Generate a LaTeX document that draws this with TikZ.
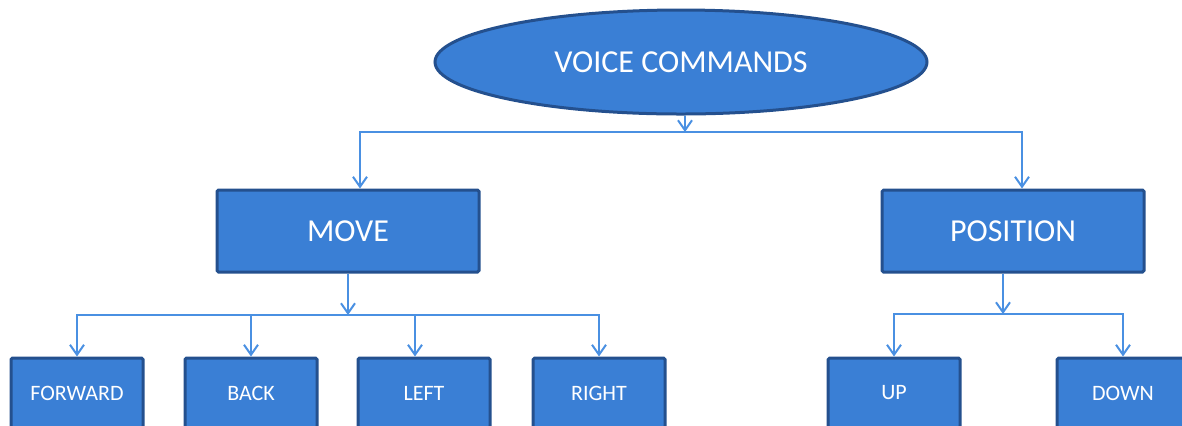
\documentclass[tikz,border=0pt]{standalone}
\usepackage{fontspec}
\setmainfont{Carlito}
\usetikzlibrary{shapes.geometric,arrows.meta}
\definecolor{boxblue}{RGB}{58,127,213}
\definecolor{rimblue}{RGB}{36,80,142}
\definecolor{lineblue}{RGB}{74,144,226}

\begin{document}
\begin{tikzpicture}[x=0.5pt,y=-0.5pt]
			\clip (0,0) rectangle (1182,425);
			\begin{scope}[every node/.style={draw=rimblue,line width=1.5pt,fill=boxblue,text=white,inner sep=0pt,rounded corners=0.8pt}]
				\node[ellipse,minimum width=246pt,minimum height=52pt,font=\fontsize{16}{19}\selectfont] (vc) at (681,62) {VOICE COMMANDS};
				\node[minimum width=131pt,minimum height=41pt,font=\fontsize{16}{19}\selectfont] (move) at (348,231) {MOVE};
				\node[minimum width=131pt,minimum height=41pt,font=\fontsize{16}{19}\selectfont] (pos) at (1013,231) {POSITION};
				\node[minimum width=66pt,minimum height=35pt,font=\fontsize{11}{13}\selectfont] (fwd) at (77,393) {FORWARD};
				\node[minimum width=66pt,minimum height=35pt,font=\fontsize{11}{13}\selectfont] (back) at (251,393) {BACK};
				\node[minimum width=66pt,minimum height=35pt,font=\fontsize{11}{13}\selectfont] (lft) at (424,393) {LEFT};
				\node[minimum width=66pt,minimum height=35pt,font=\fontsize{11}{13}\selectfont] (rgt) at (599,393) {RIGHT};
				\node[minimum width=66pt,minimum height=35pt,font=\fontsize{11}{13}\selectfont] (up) at (894,393) {UP};
				\node[minimum width=66pt,minimum height=35pt,font=\fontsize{11}{13}\selectfont] (down) at (1123,393) {DOWN};
			\end{scope}
			
			\coordinate (bus1) at (685,132);
			\coordinate (bus2) at (348,315);
			\coordinate (bus3) at (1003,314);
			
			\begin{scope}[every path/.style={draw=lineblue,line width=1pt,-{Straight Barb[length=5pt,width=7pt]}}]
				\draw (bus1 |- vc.south) -- (bus1);
				\draw (bus1) -| ([xshift=6pt]move.north);
				\draw (bus1) -| ([xshift=4.5pt]pos.north);
				\draw (move) -- (bus2);
				\draw (bus2) -| (fwd);
				\draw (bus2) -| (back);
				\draw (bus2) -| ([xshift=-4.5pt]lft.north);
				\draw (bus2) -| (rgt);
				\draw ([xshift=-5pt]pos.south) -- (bus3);
				\draw (bus3) -| (up);
				\draw (bus3) -| (down);
			\end{scope}
		\end{tikzpicture}
\end{document}
